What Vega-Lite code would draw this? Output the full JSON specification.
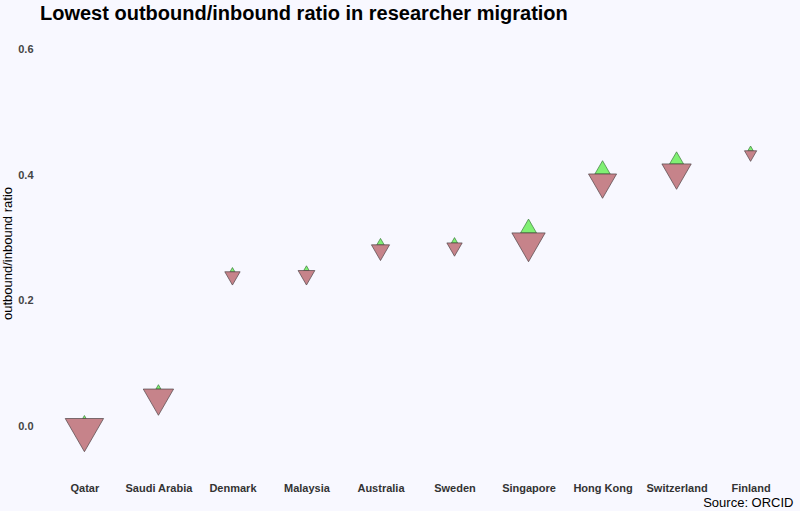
{
  "$schema": "https://vega.github.io/schema/vega-lite/v6.json",
  "autosize": "none",
  "padding": {"left": 40, "top": 30, "right": 5, "bottom": 35},
  "width": 755,
  "height": 446,
  "background": "#F8F8FF",
  "title": {
    "text": "Lowest outbound/inbound ratio in researcher migration",
    "anchor": "start",
    "frame": "group",
    "font": "Liberation Sans",
    "fontSize": 20,
    "fontWeight": "bold",
    "color": "#000000",
    "offset": 6
  },
  "data": {
    "values": [
      {"country": "Qatar", "ratio": 0.012, "outbound": 12, "inbound": 1470},
      {"country": "Saudi Arabia", "ratio": 0.059, "outbound": 25, "inbound": 920},
      {"country": "Denmark", "ratio": 0.246, "outbound": 24, "inbound": 235},
      {"country": "Malaysia", "ratio": 0.248, "outbound": 30, "inbound": 280},
      {"country": "Australia", "ratio": 0.289, "outbound": 55, "inbound": 330},
      {"country": "Sweden", "ratio": 0.292, "outbound": 38, "inbound": 235},
      {"country": "Singapore", "ratio": 0.308, "outbound": 255, "inbound": 1110},
      {"country": "Hong Kong", "ratio": 0.402, "outbound": 235, "inbound": 790},
      {"country": "Switzerland", "ratio": 0.418, "outbound": 195, "inbound": 860},
      {"country": "Finland", "ratio": 0.439, "outbound": 30, "inbound": 150}
    ]
  },
  "encoding": {
    "x": {
      "field": "country",
      "type": "nominal",
      "sort": null,
      "scale": {"type": "point", "padding": 0.6},
      "axis": {
        "title": "Source: ORCID",
        "titleFont": "Liberation Sans",
        "titleFontSize": 13,
        "titleFontWeight": "normal",
        "titleColor": "#000000",
        "titleAnchor": "end",
        "titleAlign": "right",
        "titleBaseline": "middle",
        "titleX": 753,
        "titleY": 26,
        "labelAngle": 0,
        "labelFont": "Liberation Sans",
        "labelFontSize": 11,
        "labelFontWeight": "bold",
        "labelColor": "#333333",
        "labelPadding": 6,
        "ticks": false,
        "domain": false,
        "grid": false
      }
    },
    "y": {
      "field": "ratio",
      "type": "quantitative",
      "scale": {"domain": [-0.0797, 0.6316], "nice": false, "zero": false},
      "axis": {
        "title": "outbound/inbound ratio",
        "titleFont": "Liberation Sans",
        "titleFontSize": 13,
        "titleFontWeight": "normal",
        "titleColor": "#000000",
        "titleX": -33,
        "titleY": 223,
        "titleBaseline": "middle",
        "values": [0, 0.2, 0.4, 0.6],
        "format": ".1f",
        "labelFont": "Liberation Sans",
        "labelFontSize": 11,
        "labelFontWeight": "bold",
        "labelColor": "#444444",
        "labelPadding": 7,
        "ticks": false,
        "domain": false,
        "grid": false
      }
    }
  },
  "layer": [
    {
      "mark": {
        "type": "point",
        "shape": "M-1,0L1,0L0,-1.732Z",
        "filled": true,
        "fill": "#80F073",
        "fillOpacity": 1,
        "stroke": "#3C7A3C",
        "strokeWidth": 0.7
      },
      "encoding": {
        "size": {
          "field": "outbound",
          "type": "quantitative",
          "scale": {"type": "linear", "domain": [0, 1500], "range": [0, 1500], "zero": true},
          "legend": null
        }
      }
    },
    {
      "mark": {
        "type": "point",
        "shape": "M-1,0L1,0L0,1.732Z",
        "filled": true,
        "fill": "#BD6F75",
        "fillOpacity": 0.85,
        "stroke": "#4F4446",
        "strokeWidth": 0.7
      },
      "encoding": {
        "size": {
          "field": "inbound",
          "type": "quantitative",
          "scale": {"type": "linear", "domain": [0, 1500], "range": [0, 1500], "zero": true},
          "legend": null
        }
      }
    }
  ],
  "config": {
    "view": {"stroke": null},
    "style": {"cell": {"stroke": "transparent"}}
  }
}
